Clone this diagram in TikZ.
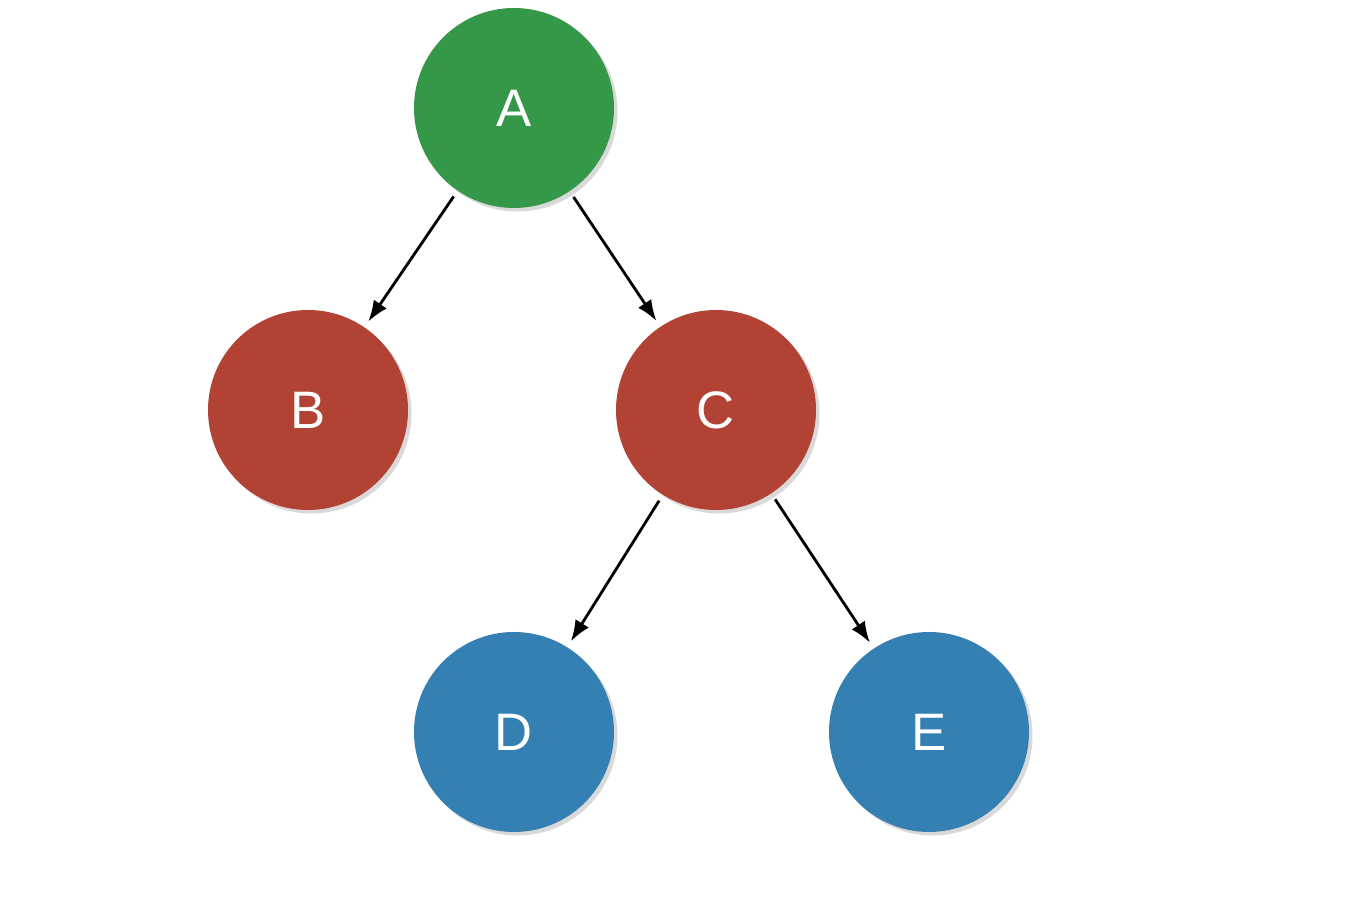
\documentclass[tikz,border=0pt]{standalone}
\usepackage{fontspec}
\setmainfont{Liberation Sans}
\usetikzlibrary{shadows,arrows.meta}
\definecolor{rootgreen}{RGB}{52,152,72}
\definecolor{innerred}{RGB}{178,66,52}
\definecolor{leafblue}{RGB}{52,128,178}
\tikzset{
  treenode/.style={circle, minimum size=4cm, inner sep=0pt, outer sep=4pt, text=white,
    font=\fontsize{30}{36}\selectfont, drop shadow={opacity=0.3, shadow xshift=2pt, shadow yshift=-2pt}},
  edge/.style={-{Latex[length=12pt,width=9pt]}, line width=1.6pt}
}
\begin{document}
\begin{tikzpicture}
    \useasboundingbox (0,0) rectangle (27.08,18.28);
    \node[treenode, fill=rootgreen] (A) at (10.28,16.12) {A};
    \node[treenode, fill=innerred] (B) at (6.16,10.08) {B};
    \node[treenode, fill=innerred] (C) at (14.32,10.08) {C};
    \node[treenode, fill=leafblue] (D) at (10.28,3.64) {D};
    \node[treenode, fill=leafblue] (E) at (18.58,3.64) {E};
    \draw[edge] (A) -- (B);
    \draw[edge] (A) -- (C);
    \draw[edge] (C) -- (D);
    \draw[edge] (C) -- (E);
\end{tikzpicture}
\end{document}
